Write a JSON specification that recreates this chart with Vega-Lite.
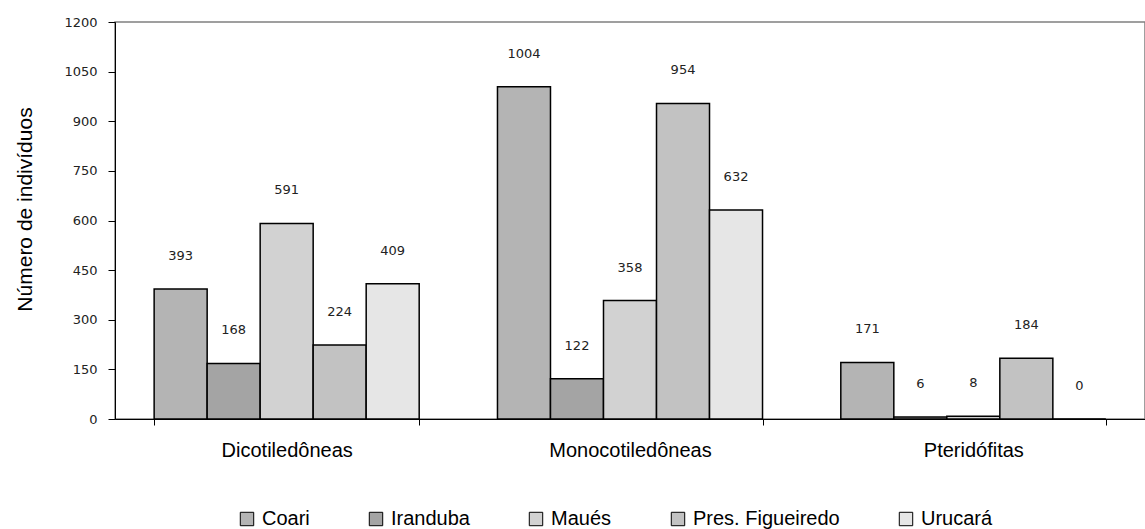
{
  "$schema": "https://vega.github.io/schema/vega-lite/v6.json",
  "autosize": {"type": "none"},
  "width": 1030,
  "height": 397,
  "padding": {"left": 115, "top": 22, "right": 0, "bottom": 110},
  "background": "white",
  "config": {
    "view": {"stroke": "#808080", "strokeWidth": 1.5},
    "font": "Liberation Sans"
  },
  "data": {
    "values": [
      {"grupo": "Dicotiledôneas", "local": "Coari", "n": 393},
      {"grupo": "Dicotiledôneas", "local": "Iranduba", "n": 168},
      {"grupo": "Dicotiledôneas", "local": "Maués", "n": 591},
      {"grupo": "Dicotiledôneas", "local": "Pres. Figueiredo", "n": 224},
      {"grupo": "Dicotiledôneas", "local": "Urucará", "n": 409},
      {"grupo": "Monocotiledôneas", "local": "Coari", "n": 1004},
      {"grupo": "Monocotiledôneas", "local": "Iranduba", "n": 122},
      {"grupo": "Monocotiledôneas", "local": "Maués", "n": 358},
      {"grupo": "Monocotiledôneas", "local": "Pres. Figueiredo", "n": 954},
      {"grupo": "Monocotiledôneas", "local": "Urucará", "n": 632},
      {"grupo": "Pteridófitas", "local": "Coari", "n": 171},
      {"grupo": "Pteridófitas", "local": "Iranduba", "n": 6},
      {"grupo": "Pteridófitas", "local": "Maués", "n": 8},
      {"grupo": "Pteridófitas", "local": "Pres. Figueiredo", "n": 184},
      {"grupo": "Pteridófitas", "local": "Urucará", "n": 0}
    ]
  },
  "encoding": {
    "x": {
      "field": "grupo",
      "type": "nominal",
      "sort": null,
      "scale": {"paddingInner": 0.228, "paddingOuter": 0.114},
      "axis": {
        "title": null,
        "labelAngle": 0,
        "labelFont": "Liberation Sans",
        "labelFontSize": 20,
        "labelColor": "#000",
        "labelPadding": 15,
        "domainColor": "#000",
        "domainWidth": 1,
        "tickColor": "#000",
        "tickSize": 6,
        "tickBand": "extent"
      }
    },
    "xOffset": {"field": "local", "type": "nominal", "sort": null, "scale": {"paddingInner": 0, "paddingOuter": 0}},
    "y": {
      "field": "n",
      "type": "quantitative",
      "scale": {"domain": [0, 1200], "nice": false},
      "axis": {
        "title": "Número de indivíduos",
        "titleFont": "Liberation Sans",
        "titleFontSize": 21,
        "titleFontWeight": "normal",
        "titleColor": "#000",
        "titlePadding": 28,
        "titleY": 187,
        "values": [0, 150, 300, 450, 600, 750, 900, 1050, 1200],
        "format": "d",
        "labelFont": "DejaVu Sans",
        "labelFontSize": 13,
        "labelColor": "#222",
        "labelPadding": 11,
        "grid": false,
        "domainColor": "#000",
        "tickColor": "#000",
        "tickSize": 7
      }
    }
  },
  "layer": [
    {
      "mark": {"type": "bar", "stroke": "#000", "strokeWidth": 1.5},
      "encoding": {
        "fill": {
          "field": "local",
          "type": "nominal",
          "sort": null,
          "scale": {
            "domain": ["Coari", "Iranduba", "Maués", "Pres. Figueiredo", "Urucará"],
            "range": ["#b4b4b4", "#a4a4a4", "#d2d2d2", "#c2c2c2", "#e6e6e6"]
          },
          "legend": {
            "title": null,
            "orient": "none",
            "direction": "horizontal",
            "legendX": 122,
            "legendY": 487,
            "columns": 5,
            "columnPadding": 56,
            "symbolType": "square",
            "symbolSize": 180,
            "symbolStrokeColor": "#000",
            "symbolStrokeWidth": 1,
            "labelFont": "Liberation Sans",
            "labelFontSize": 20,
            "labelColor": "#000",
            "labelOffset": 5
          }
        }
      }
    },
    {
      "mark": {"type": "text", "font": "DejaVu Sans", "fontSize": 13, "dy": -33, "baseline": "middle", "color": "#222"},
      "encoding": {"text": {"field": "n", "type": "quantitative"}}
    }
  ]
}
